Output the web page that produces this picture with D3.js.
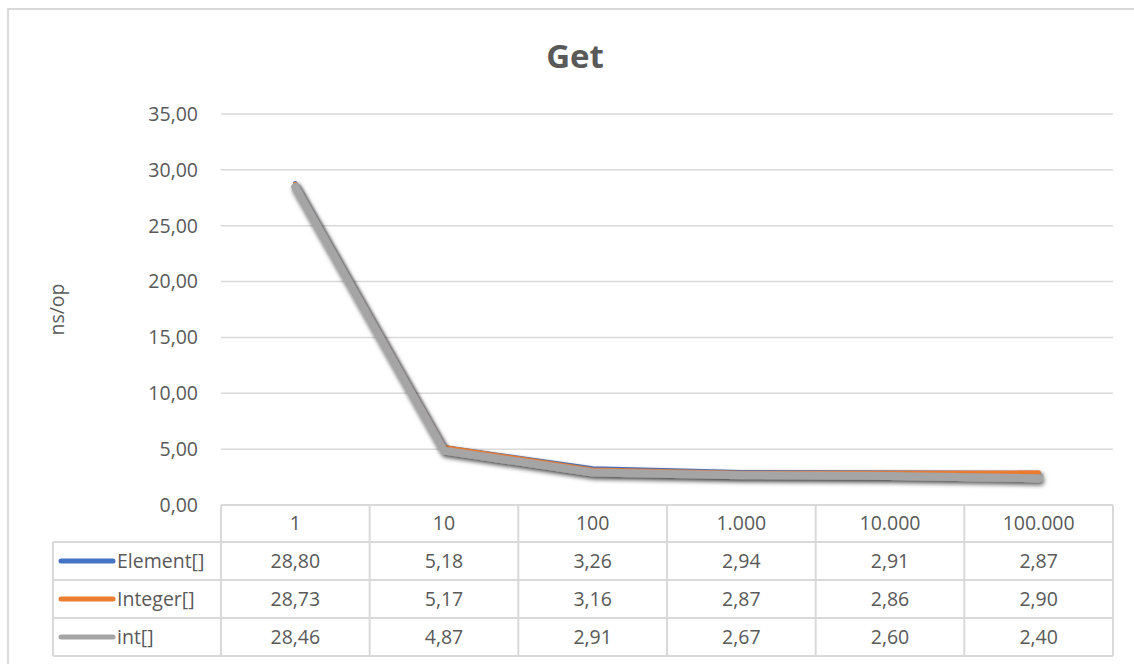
<!DOCTYPE html>
<html>
<head>
<meta charset="utf-8">
<script src="https://cdn.jsdelivr.net/npm/d3@7"></script>
<style>
  html, body { margin: 0; padding: 0; background: #fff; }
  svg { display: block; font-family: "Open Sans", Lato, sans-serif; }
</style>
</head>
<body>
<svg id="chart" width="1134" height="664"></svg>
<script>
// Benchmark results: average time per get operation by array size
const categories = ["1", "10", "100", "1.000", "10.000", "100.000"];
const seriesNames = ["Element[]", "Integer[]", "int[]"];
const elementValues = [28.80, 5.18, 3.26, 2.94, 2.91, 2.87];
const integerValues = [28.73, 5.17, 3.16, 2.87, 2.86, 2.90];
const intValues = [28.46, 4.87, 2.91, 2.67, 2.60, 2.40];
const yTicks = [0, 5, 10, 15, 20, 25, 30, 35];
const seriesColors = ["#4472c4", "#ed7d31", "#a5a5a5"];

const series = [
  { name: seriesNames[0], values: elementValues, color: seriesColors[0], width: 4.5 },
  { name: seriesNames[1], values: integerValues, color: seriesColors[1], width: 4.5 },
  { name: seriesNames[2], values: intValues, color: seriesColors[2], width: 8 }
];

const svg = d3.select("#chart");
const grid = "#d9d9d9";
const textColor = "#595959";
const fs = 19.5;
const fmt = v => d3.format(".2f")(v).replace(".", ",");

const plot = { left: 221, right: 1113, top: 114, bottom: 505 };
const x = d3.scaleBand().domain(categories).range([plot.left, plot.right]);
const y = d3.scaleLinear().domain([0, 35]).range([plot.bottom, plot.top]);

// drop shadow for the series lines
const defs = svg.append("defs");
const f = defs.append("filter").attr("id", "shadow")
  .attr("x", "-5%").attr("y", "-20%").attr("width", "110%").attr("height", "140%");
f.append("feDropShadow").attr("dx", 1.5).attr("dy", 3).attr("stdDeviation", 2.2)
  .attr("flood-color", "#000").attr("flood-opacity", 0.6);

// chart frame
svg.append("path")
  .attr("d", "M8,664 L8,9 L1134,9")
  .attr("fill", "none").attr("stroke", grid).attr("stroke-width", 2);

// title
svg.append("text")
  .attr("x", 575).attr("y", 68)
  .attr("text-anchor", "middle")
  .attr("font-size", 33).attr("font-weight", "bold")
  .attr("fill", textColor)
  .text("Get");

// horizontal gridlines (above zero)
svg.append("g").selectAll("line")
  .data(yTicks.filter(t => t > 0))
  .join("line")
  .attr("x1", plot.left).attr("x2", plot.right)
  .attr("y1", d => y(d)).attr("y2", d => y(d))
  .attr("stroke", grid).attr("stroke-width", 1.5);

// y axis tick labels
svg.append("g").selectAll("text")
  .data(yTicks)
  .join("text")
  .attr("x", 198).attr("y", d => y(d))
  .attr("dy", "0.35em")
  .attr("text-anchor", "end")
  .attr("font-size", fs).attr("fill", textColor)
  .text(fmt);

// y axis title
svg.append("text")
  .attr("transform", `translate(64,${(plot.top + plot.bottom) / 2}) rotate(-90)`)
  .attr("text-anchor", "middle")
  .attr("font-size", fs).attr("fill", textColor)
  .text("ns/op");

// series lines
const line = d3.line()
  .x((d, i) => x(categories[i]) + x.bandwidth() / 2)
  .y(d => y(d));

svg.append("g").selectAll("path")
  .data(series)
  .join("path")
  .attr("d", d => line(d.values))
  .attr("fill", "none")
  .attr("stroke", d => d.color)
  .attr("stroke-width", d => d.width)
  .attr("stroke-linecap", "round")
  .attr("stroke-linejoin", "round")
  .attr("filter", "url(#shadow)");

// data table
const rowH = 38;
const headerTop = plot.bottom;
const tableLeft = 53;
const rowsTop = headerTop + 37;
const tableBottom = rowsTop + rowH * series.length;
const table = svg.append("g");

// horizontal rules
table.append("line")
  .attr("x1", plot.left).attr("x2", plot.right)
  .attr("y1", headerTop).attr("y2", headerTop)
  .attr("stroke", grid).attr("stroke-width", 2);
d3.range(series.length + 1).forEach(i => {
  const yy = rowsTop + i * rowH;
  table.append("line")
    .attr("x1", tableLeft).attr("x2", plot.right)
    .attr("y1", yy).attr("y2", yy)
    .attr("stroke", grid).attr("stroke-width", 2);
});
// vertical rules
table.append("line")
  .attr("x1", tableLeft).attr("x2", tableLeft)
  .attr("y1", rowsTop).attr("y2", tableBottom)
  .attr("stroke", grid).attr("stroke-width", 2);
categories.forEach(c => {
  table.append("line")
    .attr("x1", x(c)).attr("x2", x(c))
    .attr("y1", headerTop).attr("y2", tableBottom)
    .attr("stroke", grid).attr("stroke-width", 2);
});
table.append("line")
  .attr("x1", plot.right).attr("x2", plot.right)
  .attr("y1", headerTop).attr("y2", tableBottom)
  .attr("stroke", grid).attr("stroke-width", 2);

// header labels
table.selectAll("text.head")
  .data(categories)
  .join("text").attr("class", "head")
  .attr("x", d => x(d) + x.bandwidth() / 2)
  .attr("y", (headerTop + rowsTop) / 2)
  .attr("dy", "0.35em")
  .attr("text-anchor", "middle")
  .attr("font-size", fs).attr("fill", textColor)
  .text(d => d);

// series rows: legend key, name and values
series.forEach((s, r) => {
  const cy = rowsTop + rowH * r + rowH / 2;
  table.append("line")
    .attr("x1", 61).attr("x2", 113)
    .attr("y1", cy).attr("y2", cy)
    .attr("stroke", s.color).attr("stroke-width", 5)
    .attr("stroke-linecap", "round");
  table.append("text")
    .attr("x", 117).attr("y", cy).attr("dy", "0.35em")
    .attr("font-size", fs).attr("fill", textColor)
    .text(s.name);
  table.selectAll(null)
    .data(s.values)
    .join("text")
    .attr("x", (d, i) => x(categories[i]) + x.bandwidth() / 2)
    .attr("y", cy).attr("dy", "0.35em")
    .attr("text-anchor", "middle")
    .attr("font-size", fs).attr("fill", textColor)
    .text(fmt);
});
</script>
</body>
</html>
